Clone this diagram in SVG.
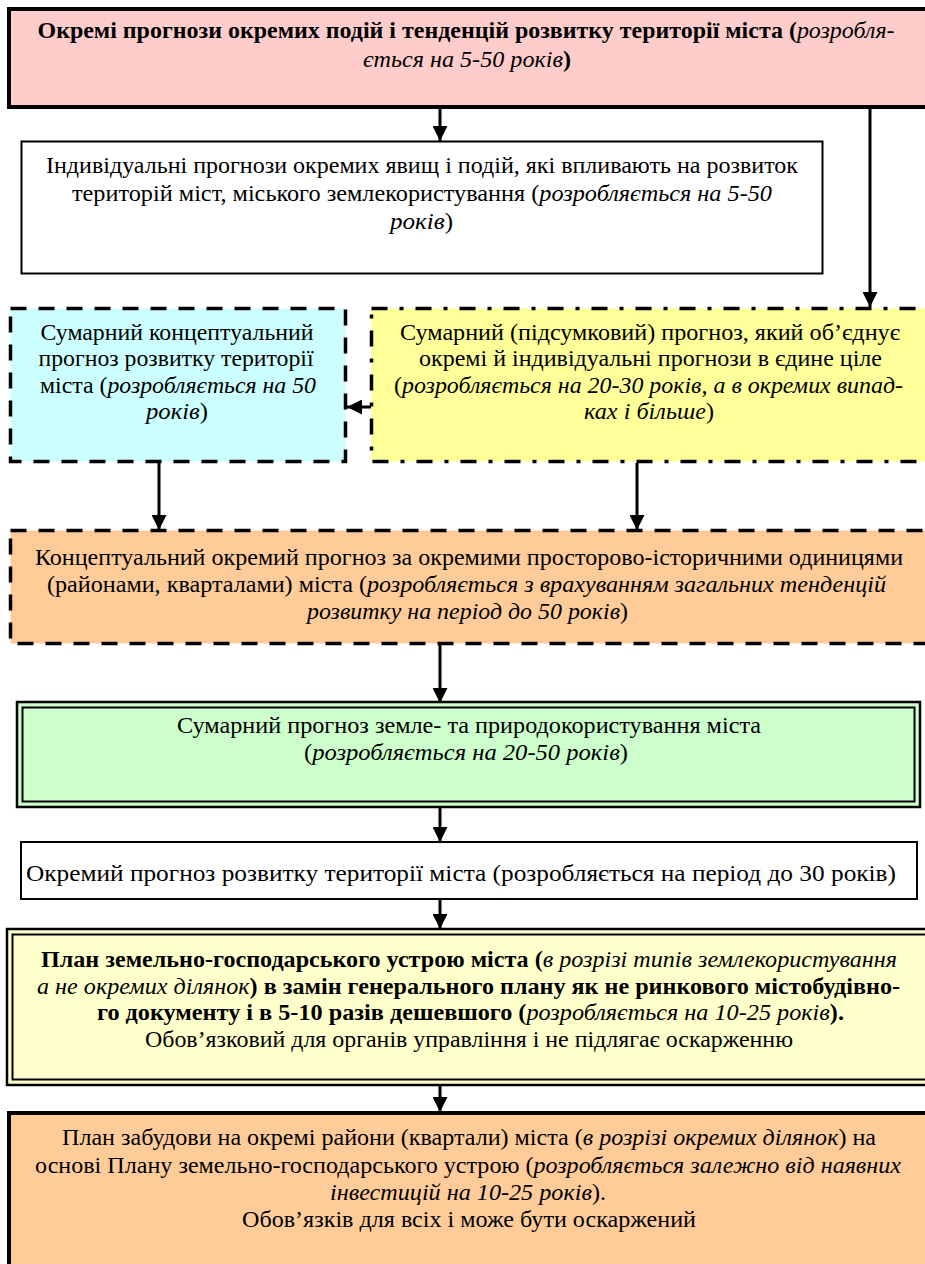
<svg xmlns="http://www.w3.org/2000/svg" width="925" height="1264" viewBox="0 0 925 1264">
<style>
text{font-family:"Liberation Serif","Times New Roman",serif;font-size:24px;fill:#000;text-anchor:middle}
.b{font-weight:bold}
.i{font-style:italic;font-weight:normal}
.solid{stroke:#000}
.dash{stroke:#000;stroke-width:3.5;stroke-dasharray:16 12}
.dashdot{stroke:#000;stroke-width:3.5;stroke-dasharray:16 12 4 12}
.conn{stroke:#000;stroke-width:3;fill:none}
</style>
<defs>
<marker id="ah" markerUnits="userSpaceOnUse" markerWidth="15" markerHeight="15" refX="15" refY="7.5" orient="auto">
<path d="M0,0 L15,7.5 L0,15 z" fill="#000"/>
</marker>
</defs>
<rect width="925" height="1264" fill="#fff"/>

<g id="connectors">
<line class="conn" x1="440" y1="109" x2="440" y2="141" marker-end="url(#ah)"/>
<line class="conn" x1="870" y1="109" x2="870" y2="307" marker-end="url(#ah)"/>
<line class="conn" x1="371" y1="407" x2="347" y2="407" marker-end="url(#ah)"/>
<line class="conn" x1="159" y1="463" x2="159" y2="530" marker-end="url(#ah)"/>
<line class="conn" x1="637" y1="463" x2="637" y2="530" marker-end="url(#ah)"/>
<line class="conn" x1="440" y1="645" x2="440" y2="703" marker-end="url(#ah)"/>
<line class="conn" x1="440" y1="807" x2="440" y2="842" marker-end="url(#ah)"/>
<line class="conn" x1="440" y1="899" x2="440" y2="929" marker-end="url(#ah)"/>
<line class="conn" x1="440" y1="1086" x2="440" y2="1112" marker-end="url(#ah)"/>
</g>

<g id="n1">
<rect x="9" y="9" width="930" height="98" fill="#FFCCCC" class="solid" stroke-width="4"/>
<text x="466" y="38" textLength="857" lengthAdjust="spacingAndGlyphs"><tspan class="b">Окремі прогнози окремих подій і тенденцій розвитку території міста (</tspan><tspan class="i">розробля-</tspan></text>
<text x="467" y="67" textLength="208" lengthAdjust="spacingAndGlyphs"><tspan class="i">ється на 5-50 років</tspan><tspan class="b">)</tspan></text>
</g>

<g id="n2">
<rect x="21.5" y="141.5" width="801" height="132" fill="#fff" class="solid" stroke-width="2"/>
<text x="422" y="173" textLength="752" lengthAdjust="spacingAndGlyphs">Індивідуальні прогнози окремих явищ і подій, які впливають на розвиток</text>
<text x="422" y="201" textLength="700" lengthAdjust="spacingAndGlyphs">територій міст, міського землекористування (<tspan class="i">розробляється на 5-50</tspan></text>
<text x="421.5" y="229" textLength="63" lengthAdjust="spacingAndGlyphs"><tspan class="i">років</tspan>)</text>
</g>

<g id="n3">
<rect x="10.5" y="308.5" width="335" height="153" fill="#CCFFFF" class="dash"/>
<text x="177" y="340" textLength="273" lengthAdjust="spacingAndGlyphs">Сумарний концептуальний</text>
<text x="176" y="366" textLength="275" lengthAdjust="spacingAndGlyphs">прогноз розвитку території</text>
<text x="178" y="393" textLength="276" lengthAdjust="spacingAndGlyphs">міста (<tspan class="i">розробляється на 50</tspan></text>
<text x="177" y="419" textLength="62" lengthAdjust="spacingAndGlyphs"><tspan class="i">років</tspan>)</text>
</g>

<g id="n4">
<rect x="371.5" y="308.5" width="570" height="153" fill="#FFFF99" class="dashdot"/>
<text x="650" y="340" textLength="500" lengthAdjust="spacingAndGlyphs">Сумарний (підсумковий) прогноз, який об’єднує</text>
<text x="650.5" y="366" textLength="463" lengthAdjust="spacingAndGlyphs">окремі й індивідуальні прогнози в єдине ціле</text>
<text x="648.5" y="393" textLength="509" lengthAdjust="spacingAndGlyphs">(<tspan class="i">розробляється на 20-30 років, а в окремих випад-</tspan></text>
<text x="649" y="419" textLength="130" lengthAdjust="spacingAndGlyphs"><tspan class="i">ках і більше</tspan>)</text>
</g>

<g id="n5">
<rect x="10.5" y="530.5" width="935" height="113" fill="#FFCC99" class="dash"/>
<text x="469" y="565" textLength="868" lengthAdjust="spacingAndGlyphs">Концептуальний окремий прогноз за окремими просторово-історичними одиницями</text>
<text x="466.5" y="592" textLength="839" lengthAdjust="spacingAndGlyphs">(районами, кварталами) міста (<tspan class="i">розробляється з врахуванням загальних тенденцій</tspan></text>
<text x="467.5" y="619" textLength="321" lengthAdjust="spacingAndGlyphs"><tspan class="i">розвитку на період до 50 років</tspan>)</text>
</g>

<g id="n6">
<rect x="17" y="702" width="903" height="105" fill="#CCFFCC" class="solid" stroke-width="2.5"/>
<rect x="22.5" y="707.5" width="892" height="94" fill="#CCFFCC" class="solid" stroke-width="2"/>
<text x="469" y="733" textLength="584" lengthAdjust="spacingAndGlyphs">Сумарний прогноз земле- та природокористування міста</text>
<text x="466" y="760" textLength="324" lengthAdjust="spacingAndGlyphs">(<tspan class="i">розробляється на 20-50 років</tspan>)</text>
</g>

<g id="n7">
<rect x="21" y="842" width="896" height="57" fill="#fff" class="solid" stroke-width="2"/>
<text x="461" y="881" textLength="870" lengthAdjust="spacingAndGlyphs">Окремий прогноз розвитку території міста (розробляється на період до 30 років)</text>
</g>

<g id="n8">
<rect x="7" y="929" width="935" height="156" fill="#FFFFCC" class="solid" stroke-width="2.5"/>
<rect x="12.5" y="934.5" width="925" height="145" fill="#FFFFCC" class="solid" stroke-width="2"/>
<text x="469" y="967" textLength="856" lengthAdjust="spacingAndGlyphs"><tspan class="b">План земельно-господарського устрою міста (</tspan><tspan class="i">в розрізі типів землекористування</tspan></text>
<text x="468.5" y="994" textLength="863" lengthAdjust="spacingAndGlyphs"><tspan class="i">а не окремих ділянок</tspan><tspan class="b">) в замін генерального плану як не ринкового містобудівно-</tspan></text>
<text x="470.5" y="1020" textLength="747" lengthAdjust="spacingAndGlyphs"><tspan class="b">го документу і в 5-10 разів дешевшого (</tspan><tspan class="i">розробляється на 10-25 років</tspan><tspan class="b">).</tspan></text>
<text x="469" y="1047" textLength="648" lengthAdjust="spacingAndGlyphs">Обов’язковий для органів управління і не підлягає оскарженню</text>
</g>

<g id="n9">
<rect x="9" y="1113" width="935" height="200" fill="#FFCC99" class="solid" stroke-width="4"/>
<text x="469" y="1145" textLength="814" lengthAdjust="spacingAndGlyphs">План забудови на окремі райони (квартали) міста (<tspan class="i">в розрізі окремих ділянок</tspan>) на</text>
<text x="468" y="1173" textLength="866" lengthAdjust="spacingAndGlyphs">основі Плану земельно-господарського устрою (<tspan class="i">розробляється залежно від наявних</tspan></text>
<text x="468" y="1200" textLength="276" lengthAdjust="spacingAndGlyphs"><tspan class="i">інвестицій на 10-25 років</tspan>).</text>
<text x="469" y="1227" textLength="454" lengthAdjust="spacingAndGlyphs">Обов’язків для всіх і може бути оскаржений</text>
</g>
</svg>
